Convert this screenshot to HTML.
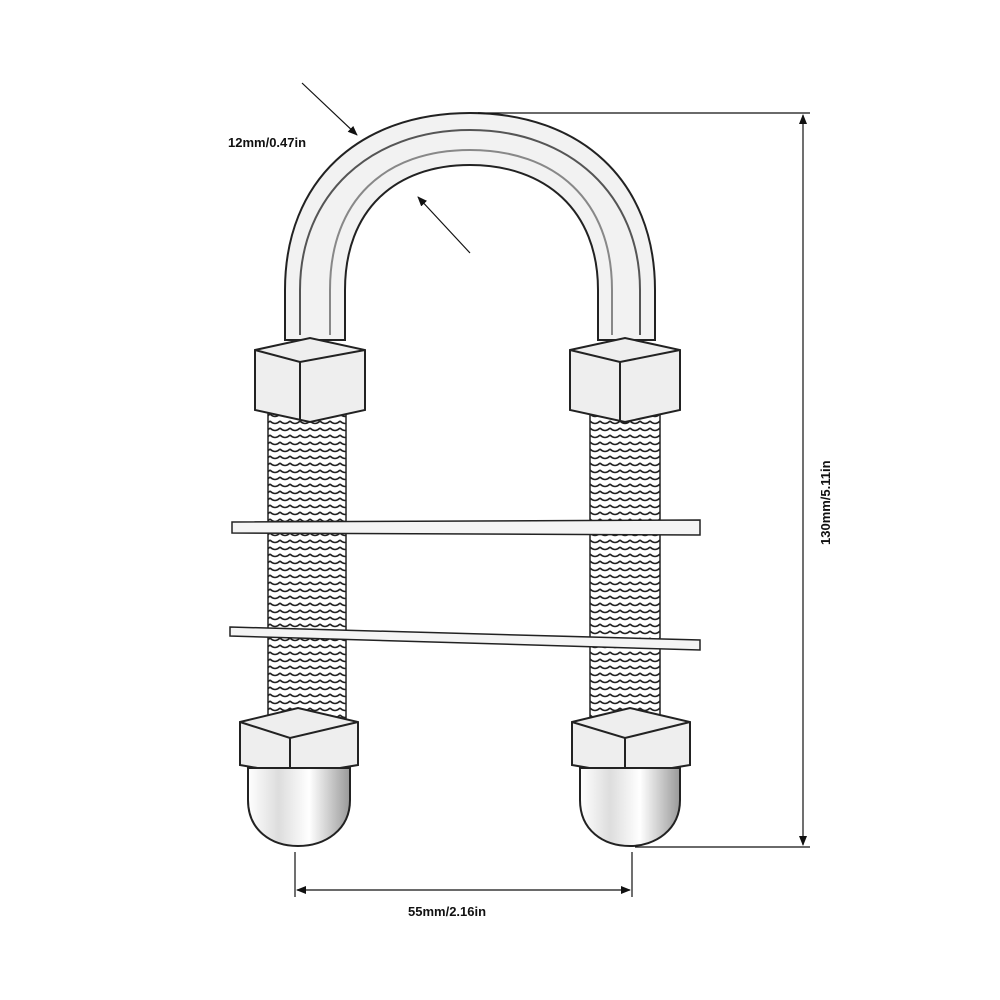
<!DOCTYPE html>
<html><head><meta charset="utf-8"><style>
html,body{margin:0;padding:0;background:#fff;width:1000px;height:1000px;overflow:hidden}
text{font-family:"Liberation Sans",sans-serif;font-weight:bold;font-size:13px;fill:#111}
</style></head><body>
<svg width="1000" height="1000" viewBox="0 0 1000 1000" xmlns="http://www.w3.org/2000/svg">
<defs>
<marker id="a" markerWidth="10" markerHeight="10" refX="9" refY="5" orient="auto-start-reverse" markerUnits="userSpaceOnUse"><path d="M0,1 L10,5 L0,9 z" fill="#111"/></marker>
<pattern id="th" width="10" height="7" patternUnits="userSpaceOnUse"><path d="M0,1 Q5,6 10,1" fill="none" stroke="#222" stroke-width="1.6"/></pattern>
<linearGradient id="rod" x1="0" x2="1"><stop offset="0" stop-color="#fff"/><stop offset="0.3" stop-color="#ddd"/><stop offset="0.6" stop-color="#fff"/><stop offset="1" stop-color="#999"/></linearGradient>
</defs>
<!-- U bend -->
<path d="M285,340 L285,290 C285,180 360,113 470,113 C580,113 655,180 655,290 L655,340 L598,340 L598,290 C598,210 545,165 470,165 C395,165 345,210 345,290 L345,340 Z" fill="#f2f2f2" stroke="#222" stroke-width="2"/>
<path d="M300,335 L300,290 C300,195 370,130 470,130 C570,130 640,195 640,290 L640,335" fill="none" stroke="#555" stroke-width="2"/>
<path d="M330,335 L330,290 C330,200 385,150 470,150 C555,150 612,200 612,290 L612,335" fill="none" stroke="#888" stroke-width="2"/>
<!-- threads -->
<rect x="268" y="390" width="78" height="330" fill="url(#th)" stroke="#222" stroke-width="1.5"/>
<rect x="590" y="390" width="70" height="330" fill="url(#th)" stroke="#222" stroke-width="1.5"/>
<!-- plates -->
<path d="M232,522 L700,520 L700,535 L232,533 Z" fill="#f4f4f4" stroke="#222" stroke-width="1.5"/>
<path d="M230,627 L700,640 L700,650 L230,636 Z" fill="#f4f4f4" stroke="#222" stroke-width="1.5"/>
<!-- top nuts -->
<g fill="#eee" stroke="#222" stroke-width="2">
<path d="M255,350 L310,338 L365,350 L365,410 L310,422 L255,410 Z"/>
<path d="M255,350 L300,362 L365,350 M300,362 L300,420" fill="none"/>
<path d="M570,350 L625,338 L680,350 L680,410 L625,422 L570,410 Z"/>
<path d="M570,350 L620,362 L680,350 M620,362 L620,420" fill="none"/>
<!-- bottom nuts -->
<path d="M240,722 L298,708 L358,722 L358,765 L298,775 L240,765 Z"/>
<path d="M240,722 L290,738 L358,722 M290,738 L290,772" fill="none"/>
<path d="M572,722 L630,708 L690,722 L690,765 L630,775 L572,765 Z"/>
<path d="M572,722 L625,738 L690,722 M625,738 L625,772" fill="none"/>
<!-- caps -->
<path d="M248,768 L350,768 L350,800 C350,830 325,846 298,846 C271,846 248,830 248,800 Z" fill="url(#rod)"/>
<path d="M580,768 L680,768 L680,800 C680,830 655,846 630,846 C603,846 580,830 580,800 Z" fill="url(#rod)"/>
</g>
<!-- dimensions -->
<g stroke="#111" stroke-width="1.2" fill="none">
<line x1="478" y1="113" x2="810" y2="113"/>
<line x1="635" y1="847" x2="810" y2="847"/>
<line x1="803" y1="115" x2="803" y2="845" marker-start="url(#a)" marker-end="url(#a)"/>
<line x1="295" y1="852" x2="295" y2="897"/>
<line x1="632" y1="852" x2="632" y2="897"/>
<line x1="297" y1="890" x2="630" y2="890" marker-start="url(#a)" marker-end="url(#a)"/>
<line x1="302" y1="83" x2="357" y2="135" marker-end="url(#a)"/>
<line x1="470" y1="253" x2="418" y2="197" marker-end="url(#a)"/>
</g>
<text x="228" y="147">12mm/0.47in</text>
<text x="408" y="916">55mm/2.16in</text>
<text x="0" y="0" transform="translate(830,545) rotate(-90)">130mm/5.11in</text>
</svg>
</body></html>
